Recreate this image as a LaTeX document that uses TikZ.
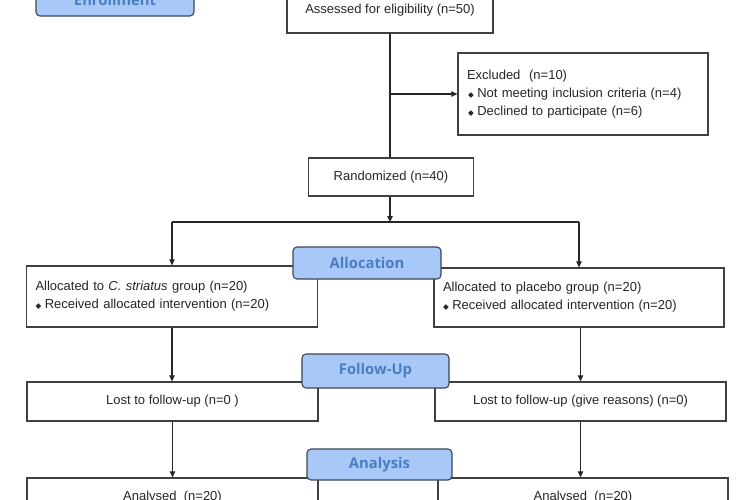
\documentclass[tikz,border=0pt]{standalone}
\usepackage{fontspec}
\setmainfont{Liberation Sans}
\newfontfamily\phasefont{Open Sans}
\newfontfamily\symfont{DejaVu Sans}
\usetikzlibrary{arrows.meta}
\tikzset{>={Triangle[length=6pt,width=5.5pt]}}
\definecolor{phaseFill}{HTML}{A8C8F8}
\definecolor{phaseText}{HTML}{4A7EC0}
\definecolor{phaseLine}{HTML}{3C4655}
\definecolor{boxLine}{HTML}{404040}
\newcommand{\bul}{{\symfont\fontsize{7.5}{7.5}\selectfont ◆}\hspace{3.5pt}}

\begin{document}
\begin{tikzpicture}[
    x = 1pt,
    y = -1pt,
    font = \fontsize{13}{18}\selectfont,
    text = black!85,
    box/.style = {draw = boxLine, line width = 1.3pt, fill = white, inner xsep = 9pt},
    leftbox/.style = {box, align = left},
    phase/.style = {draw = phaseLine, line width = 1.1pt, fill = phaseFill, rounded corners = 4pt,
      text = phaseText, font = \phasefont\bfseries\fontsize{14.8}{16}\selectfont},
    line/.style = {draw = black!85, line width = 1.1pt}
  ]
    \useasboundingbox (0, 0) rectangle (750, 499);
    \clip (0, 0) rectangle (750, 499);
    \node[box, minimum width = 206pt, minimum height = 46pt] (assessed) at (390, 10) {Assessed for eligibility (n=50)};
    \node[leftbox, minimum width = 250pt, minimum height = 82pt, text width = 232pt] (excluded) at (583, 94)
      {Excluded\ \ (n=10)\\\hspace{1pt}\bul Not meeting inclusion criteria (n=4)\\\hspace{1pt}\bul Declined to participate (n=6)};
    \node[box, minimum width = 165pt, minimum height = 38pt] (randomized) at (391, 177) {Randomized (n=40)};
    \coordinate (split) at (390, 222);
    \node[leftbox, minimum width = 291pt, minimum height = 61pt, text width = 273pt] (alloc_striatus) at (172, 296.5)
      {Allocated to \textit{C. striatus} group (n=20)\\\bul Received allocated intervention (n=20)};
    \node[leftbox, minimum width = 290pt, minimum height = 59pt, text width = 272pt] (alloc_placebo) at (579, 297.5)
      {Allocated to placebo group (n=20)\\\bul Received allocated intervention (n=20)};
    \node[box, minimum width = 291pt, minimum height = 39pt] (lost_striatus) at (172.5, 401.5) {Lost to follow-up (n=0 )};
    \node[box, minimum width = 291pt, minimum height = 39pt] (lost_placebo) at (580.5, 401.5) {Lost to follow-up (give reasons) (n=0)};
    \node[box, minimum width = 291pt, minimum height = 39pt] (analysed_striatus) at (172.5, 497.5) {Analysed\ \ (n=20)};
    \node[box, minimum width = 290pt, minimum height = 39pt] (analysed_placebo) at (583, 497.5) {Analysed\ \ (n=20)};
    \draw[line] (assessed) -- (assessed |- randomized.north);
    \draw[line, ->] (assessed |- excluded.west) -- (excluded.west);
    \draw[line, ->] (split |- randomized.south) -- (split);
    \draw[line] (alloc_striatus.north |- split) -- (alloc_placebo.north |- split);
    \draw[line, ->] (alloc_striatus.north |- split) -- (alloc_striatus.north);
    \draw[line, ->] (alloc_placebo.north |- split) -- (alloc_placebo.north);
    \draw[line, ->] (alloc_striatus.south) -- (alloc_striatus.south |- lost_striatus.north);
    \draw[line, ->] (lost_placebo.north |- alloc_placebo.south) -- (lost_placebo.north);
    \draw[line, ->] (lost_striatus.south) -- (lost_striatus.south |- analysed_striatus.north);
    \draw[line, ->] (lost_placebo.south) -- (lost_placebo.south |- analysed_placebo.north);
    \node[phase, minimum width = 158pt, minimum height = 32pt] (enrollment) at (115, 0) {Enrollment};
    \node[phase, minimum width = 148pt, minimum height = 32pt] (allocation) at (367, 263) {Allocation};
    \node[phase, minimum width = 147pt, minimum height = 34pt] (follow_up) at (375.5, 371) {Follow-Up};
    \node[phase, minimum width = 145pt, minimum height = 31pt] (analysis) at (379.5, 464.5) {Analysis};
  \end{tikzpicture}
\end{document}
